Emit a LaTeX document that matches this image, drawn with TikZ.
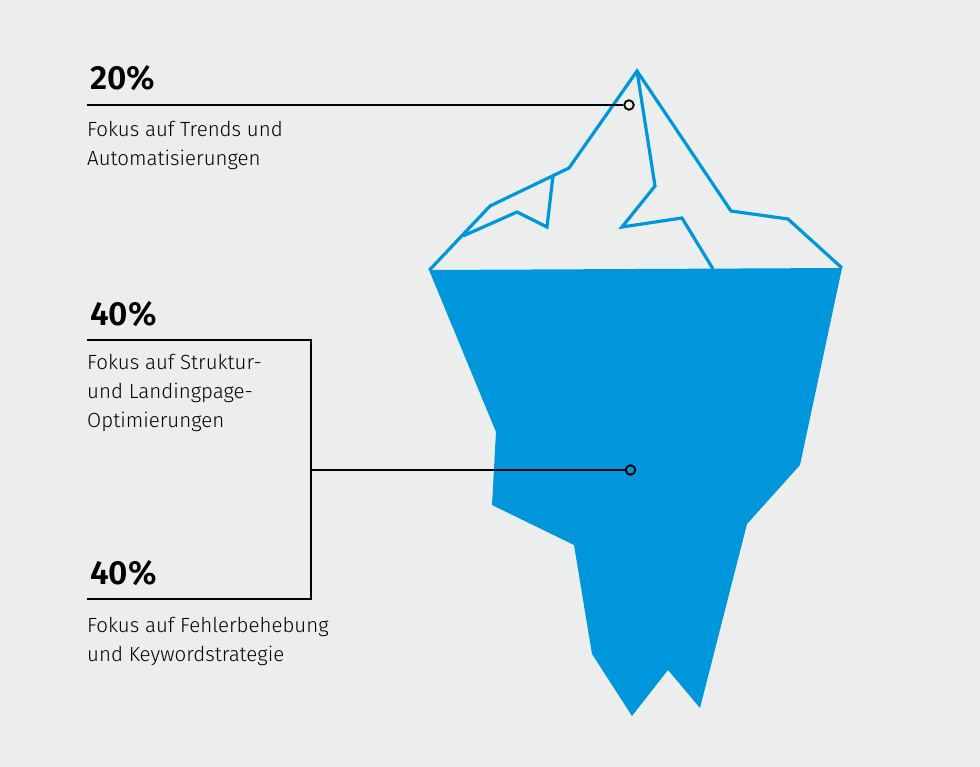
\documentclass[tikz,border=0pt]{standalone}
\usepackage{fontspec}
\setmainfont{Fira Sans Light}[BoldFont={Fira Sans SemiBold}]
\definecolor{bergblue}{HTML}{0096DB}
\definecolor{paper}{HTML}{ECEEEE}
\tikzset{
  px/.style={x=1pt,y=-1pt},
  outline/.style={draw=bergblue,line width=3.2pt,line join=miter,miter limit=6},
  leader/.style={draw=black,line width=1.6pt},
  dot/.style={circle,draw=black,line width=1.9pt,minimum size=9.5pt,inner sep=0pt},
  pct/.style={anchor=base west,inner sep=0pt,font=\fontsize{33.5}{33.5}\selectfont\bfseries},
  desc/.style={anchor=base west,inner sep=0pt,align=left,font=\fontsize{20.5}{29}\selectfont},
}
\begin{document}
\begin{tikzpicture}[px]
\useasboundingbox (0,0) rectangle (980,767);
\fill[paper] (0,0) rectangle (980,767);
% iceberg
\fill[bergblue] (429,270) -- (842,268) -- (800,465) -- (747,524) -- (700,708) -- (668,670) -- (632,716) -- (592,654) -- (574,545) -- (492,505) -- (496,432) -- cycle;
\draw[outline] (429.5,270) -- (490,206) -- (569,168) -- (637,71) -- (731,211) -- (788,219) -- (842,268);
\draw[outline] (463,236) -- (517,212) -- (547,227) -- (553,176);
\draw[outline] (637,71) -- (655,186) -- (622,227) -- (682,218) -- (713,269);
% leaders
\node[dot,fill=paper] (d1) at (629,105) {};
\node[dot,fill=bergblue] (d2) at (630.5,470) {};
\coordinate (a1) at (87,105);
\coordinate (b1) at (87,340);
\coordinate (b2) at (311,340);
\coordinate (b3) at (311,599);
\coordinate (b4) at (87,599);
\coordinate (j) at (311,470);
\draw[leader] (a1) -- (d1);
\draw[leader] (b1) -- (b2) -- (b3) -- (b4);
\draw[leader] (j) -- (d2);
% texts
\node[pct] (p1) at (90,90) {20\%};
\node[pct] (p2) at (90,326) {40\%};
\node[pct] (p3) at (90,584) {40\%};
\node[desc] (t1) at (87,166) {Fokus auf Trends und\\Automatisierungen};
\node[desc] (t2) at (87,427) {Fokus auf Struktur-\\und Landingpage-\\Optimierungen};
\node[desc] (t3) at (87,661) {Fokus auf Fehlerbehebung\\und Keywordstrategie};
\end{tikzpicture}
\end{document}
